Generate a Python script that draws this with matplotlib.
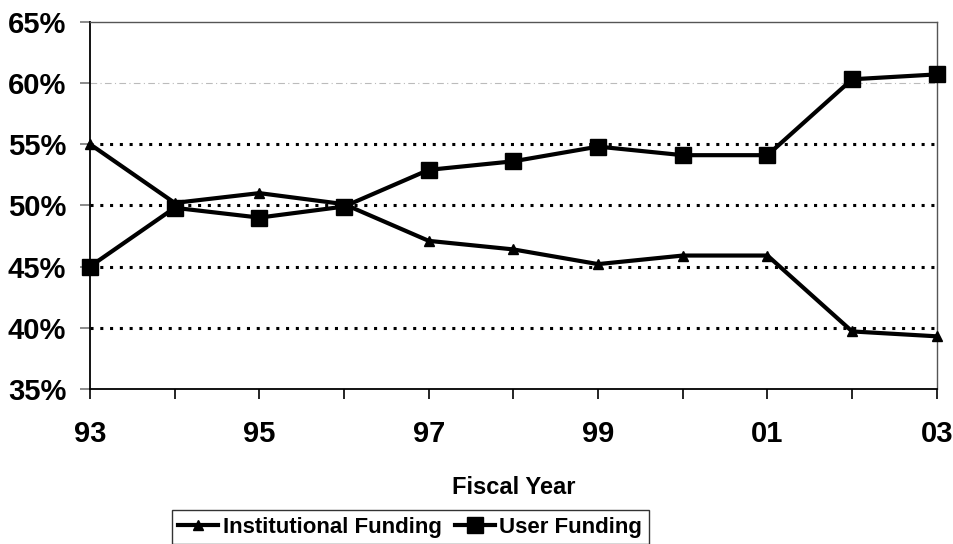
import matplotlib.pyplot as plt
from matplotlib.ticker import FuncFormatter

plt.rcParams['font.family'] = ['Liberation Sans', 'DejaVu Sans']
plt.rcParams['font.weight'] = 'bold'

# fiscal years 1993-2003 and funding shares (%)
years = ['93', '94', '95', '96', '97', '98', '99', '00', '01', '02', '03']
institutional = [55.0, 50.2, 51.0, 50.1, 47.1, 46.4, 45.2, 45.9, 45.9, 39.7, 39.3]
user = [45.0, 49.8, 49.0, 49.9, 52.9, 53.6, 54.8, 54.1, 54.1, 60.3, 60.7]
shown_labels = ['93', '95', '97', '99', '01', '03']

fig = plt.figure(figsize=(9.54, 5.44), dpi=100)
ax = fig.add_axes([0.0943, 0.285, 0.8877, 0.675])

x = list(range(len(years)))

# reference lines
for v in [40, 45, 50, 55]:
    ax.axhline(v, color='black', lw=2.2, ls=(0, (1, 2.2)), zorder=1)
ax.axhline(60, color='#bbbbbb', lw=0.8, ls=(0, (6, 3, 1, 3)), zorder=1)

ax.plot(x, institutional, color='black', lw=3, marker='^', ms=7,
        label='Institutional Funding', zorder=3, clip_on=False)
ax.plot(x, user, color='black', lw=3, marker='s', ms=12,
        label='User Funding', zorder=3, clip_on=False)

ax.set_xlim(0, len(years) - 1)
ax.set_ylim(35, 65)
ax.set_yticks([35, 40, 45, 50, 55, 60, 65])
ax.yaxis.set_major_formatter(FuncFormatter(lambda v, p: f'{v:.0f}%'))
ax.set_xticks(x)
ax.set_xticklabels([y if y in shown_labels else '' for y in years])
ax.tick_params(axis='both', direction='out', length=7, width=1.2,
               labelsize=21, colors='black')
ax.tick_params(axis='y', color='#777777', pad=10)
ax.tick_params(axis='x', pad=15)

ax.set_xlabel('Fiscal Year', fontsize=17, fontweight='bold')
ax.xaxis.label.set_va('center')
ax.xaxis.set_label_coords(0.5, -0.267)

for side in ['left', 'bottom']:
    ax.spines[side].set_color('black')
    ax.spines[side].set_linewidth(1.3)
for side in ['top', 'right']:
    ax.spines[side].set_color('#555555')
    ax.spines[side].set_linewidth(1.0)

leg = fig.legend(loc='upper center', bbox_to_anchor=(0.43, 0.0625), ncol=2,
                 frameon=True, fancybox=False, edgecolor='black',
                 fontsize=16, handlelength=1.8, handletextpad=0.2,
                 columnspacing=0.6, borderpad=0.3, borderaxespad=0)
leg.get_frame().set_linewidth(1.0)

fig.savefig('out.png', dpi=100)
